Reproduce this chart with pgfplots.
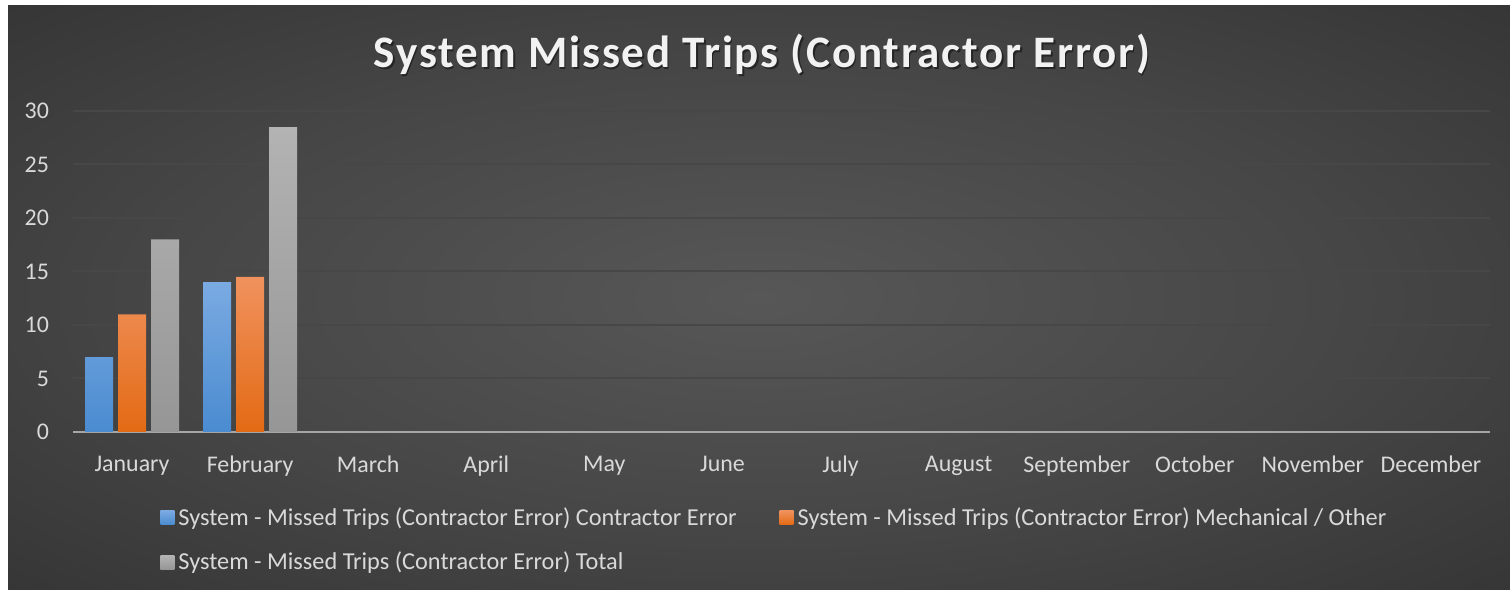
\documentclass[border=0pt]{standalone}
\usepackage{fontspec}
\setmainfont{Carlito}
\newfontfamily\titlefont[LetterSpace=4]{Carlito}
\usepackage{pgfplots}
\pgfplotsset{compat=1.18}

\definecolor{bgin}{HTML}{575757}
\definecolor{bgmid}{HTML}{464646}
\definecolor{bgedge}{HTML}{2C2C2C}
\definecolor{bgout}{HTML}{252525}
\definecolor{gridc}{HTML}{474747}
\definecolor{axisc}{HTML}{A6A6A6}
\definecolor{txt}{HTML}{D9D9D9}
\definecolor{blueT}{HTML}{7AAAE2}
\definecolor{blueB}{HTML}{4A8BD0}
\definecolor{orT}{HTML}{F0925E}
\definecolor{orB}{HTML}{E36A14}
\definecolor{grT}{HTML}{B3B3B3}
\definecolor{grB}{HTML}{969696}

\pgfdeclareradialshading{bgshade}{\pgfpoint{0bp}{0bp}}{%
  color(0bp)=(bgin); color(20bp)=(bgmid); color(45bp)=(bgedge); color(72bp)=(bgout)}

\begin{document}
\begin{tikzpicture}
\path[use as bounding box, fill=white] (0,0) rectangle (755bp,296bp);
\shade[shading=bgshade] (4bp,1bp) rectangle (755bp,293bp);

% title with a soft shadow
\node[anchor=base, text=black, opacity=0.45, font=\titlefont\bfseries\fontsize{22.6}{27}\selectfont]
  at (381.8bp,261.2bp) {System Missed Trips (Contractor Error)};
\node[anchor=base, text=white!95!black, font=\titlefont\bfseries\fontsize{22.6}{27}\selectfont]
  at (381bp,262bp) {System Missed Trips (Contractor Error)};

\begin{axis}[
  at={(36.5bp,80bp)}, anchor=south west,
  scale only axis,
  width=708.5bp, height=160.5bp,
  xmin=-0.5, xmax=11.5,
  ymin=0, ymax=30,
  ytick={0,5,...,30},
  xtick={0,...,11},
  xticklabels={January,February,March,April,May,June,July,August,September,October,November,December},
  major tick length=0pt,
  axis x line*=bottom,
  axis y line*=left,
  x axis line style={draw=axisc, line width=1.3bp, -},
  y axis line style={draw=none},
  ymajorgrids,
  major grid style={draw=gridc, line width=1bp},
  ybar,
  bar width=14bp,
  tick label style={font=\fontsize{12}{14.4}\selectfont, text=txt},
  /pgf/number format/assume math mode=true,
  xticklabel style={yshift=-8.5bp},
  yticklabel style={anchor=east, xshift=-8.5bp},
  legend columns=2,
  legend cell align=left,
  legend style={
    at={(0.0614,-0.221)}, anchor=north west,
    draw=none, fill=none, inner sep=0pt,
    font=\fontsize{12.2}{14.6}\selectfont, text=txt,
    /tikz/every even column/.append style={column sep=19.5bp},
    row sep=8bp,
  },
  legend image code/.code={\fill[#1] (0bp,-3.5bp) rectangle (7bp,3.5bp);},
]
\addplot[draw=none, top color=blueT, bottom color=blueB, bar shift=-16.5bp]
  coordinates {(0,7) (1,14)};
\addlegendentry{System - Missed Trips (Contractor Error) Contractor Error}
\addplot[draw=none, top color=orT, bottom color=orB, bar shift=0bp]
  coordinates {(0,11) (1,14.5)};
\addlegendentry{System - Missed Trips (Contractor Error) Mechanical / Other}
\addplot[draw=none, top color=grT, bottom color=grB, bar shift=16.5bp]
  coordinates {(0,18) (1,28.5)};
\addlegendentry{System - Missed Trips (Contractor Error) Total}
\end{axis}
\end{tikzpicture}
\end{document}
